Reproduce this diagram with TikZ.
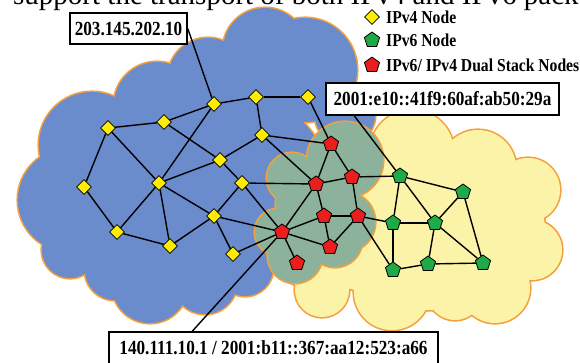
\documentclass[tikz,border=0pt]{standalone}
\usepackage{fontspec}
\setmainfont{Liberation Serif}
\newfontfamily\addrfont{Liberation Serif}[FakeStretch=0.86]
\usepackage{tikz}
\usetikzlibrary{shapes.geometric}
\definecolor{cloudblue}{RGB}{106,140,204}
\definecolor{cloudyellow}{RGB}{250,243,168}
\definecolor{cloudgreen}{RGB}{140,178,156}
\definecolor{cloudedge}{RGB}{245,160,60}
\definecolor{nodeyellow}{RGB}{255,236,0}
\definecolor{nodegreen}{RGB}{30,170,70}
\definecolor{nodered}{RGB}{235,30,30}
\tikzstyle{vfour} = [draw=black, line width=0.8pt, diamond, fill=nodeyellow, minimum size=15pt, inner sep=0pt]
\tikzstyle{vsix} = [draw=black, line width=0.8pt, regular polygon, regular polygon sides=5, fill=nodegreen, minimum size=16pt, inner sep=0pt]
\tikzstyle{vdual} = [vsix, fill=nodered]
\tikzstyle{addrbox} = [draw=black, line width=1.5pt, rectangle, fill=white, inner sep=0pt, minimum height=32pt, font=\addrfont\bfseries\fontsize{20}{20}\selectfont]
\tikzstyle{legendtext} = [anchor=base west, inner sep=0pt, font=\addrfont\bfseries\fontsize{18.2}{18.2}\selectfont]
\tikzstyle{link} = [draw=black, line width=1.4pt]

\begin{document}
\begin{tikzpicture}[x=1pt, y=-1pt]
    \useasboundingbox (0,0) rectangle (580,362);

    % yellow cloud (IPv6)
    \foreach \cx/\cy/\r in {412/152/42, 478/168/38, 528/190/32, 532/250/30, 495/288/35, 455/292/28, 392/292/38, 322/290/27, 305/262/25, 310/250/28, 360/250/40, 470/230/60}
        \fill[cloudedge] (\cx,\cy) circle [radius=\r+1.6];
    \fill[cloudedge] (430,230) ellipse [x radius=116.6, y radius=81.6];
    \foreach \cx/\cy/\r in {412/152/42, 478/168/38, 528/190/32, 532/250/30, 495/288/35, 455/292/28, 392/292/38, 322/290/27, 305/262/25, 310/250/28, 360/250/40, 470/230/60}
        \fill[cloudyellow] (\cx,\cy) circle [radius=\r];
    \fill[cloudyellow] (430,230) ellipse [x radius=115, y radius=80];

    % blue cloud (IPv4)
    \foreach \cx/\cy/\r in {92/145/53, 70/200/52, 70/250/28, 115/270/30, 150/285/38, 205/282/32, 245/268/28, 157/105/43, 208/78/40, 265/50/42, 305/70/52, 345/115/30}
        \fill[cloudedge] (\cx,\cy) circle [radius=\r+1.6];
    \fill[cloudedge] (195,185) ellipse [x radius=136.6, y radius=106.6];
    \foreach \cx/\cy/\r in {92/145/53, 70/200/52, 70/250/28, 115/270/30, 150/285/38, 205/282/32, 245/268/28, 157/105/43, 208/78/40, 265/50/42, 305/70/52, 345/115/30}
        \fill[cloudblue] (\cx,\cy) circle [radius=\r];
    \fill[cloudblue] (195,185) ellipse [x radius=135, y radius=105];

    % green cloud (dual stack)
    \foreach \cx/\cy/\r in {292/178/25, 345/160/38, 345/222/30, 335/240/27, 295/256/27, 278/232/23, 318/205/42}
        \fill[cloudedge] (\cx,\cy) circle [radius=\r+1.6];
    \foreach \cx/\cy/\r in {292/178/25, 345/160/38, 345/222/30, 335/240/27, 295/256/27, 278/232/23, 318/205/42}
        \fill[cloudgreen] (\cx,\cy) circle [radius=\r];

    % IPv4 nodes
    \node[vfour] (yel1) at (214,104) {};
    \node[vfour] (yel2) at (256,97) {};
    \node[vfour] (yel3) at (164,122) {};
    \node[vfour] (yel4) at (108,128) {};
    \node[vfour] (yel5) at (262,135) {};
    \node[vfour] (yel6) at (220,160) {};
    \node[vfour] (yel7) at (84,187) {};
    \node[vfour] (yel8) at (159,183) {};
    \node[vfour] (yel9) at (242,183) {};
    \node[vfour] (yel10) at (117,232) {};
    \node[vfour] (yel11) at (214,216) {};
    \node[vfour] (yel12) at (170,246) {};
    \node[vfour] (yel13) at (233,254) {};
    \node[vfour] (yel14) at (308,97) {};

    % dual stack nodes
    \node[vdual] (red1) at (331,144) {};
    \node[vdual] (red2) at (352,177) {};
    \node[vdual] (red3) at (316,184) {};
    \node[vdual] (red4) at (324,216) {};
    \node[vdual] (red5) at (358,216) {};
    \node[vdual] (red6) at (282,232) {};
    \node[vdual] (red7) at (330,247) {};
    \node[vdual] (red8) at (297,263) {};

    % IPv6 nodes
    \node[vsix] (grn1) at (400,176) {};
    \node[vsix] (grn2) at (463,192) {};
    \node[vsix] (grn3) at (393,223) {};
    \node[vsix] (grn4) at (435,223) {};
    \node[vsix] (grn5) at (393,270) {};
    \node[vsix] (grn6) at (428,264) {};
    \node[vsix] (grn7) at (483,263) {};

    % links
    \foreach \a/\b in {yel1/yel2, yel1/yel3, yel3/yel4, yel4/yel7, yel4/yel8, yel1/yel8,
        yel3/yel6, yel6/yel9, yel2/yel5, yel5/yel6, yel2/yel14, yel6/yel8, yel8/yel11,
        yel8/yel10, yel8/yel12, yel7/yel10, yel10/yel12, yel12/yel11, yel11/yel9,
        yel11/yel13, yel11/red6, yel9/red3, yel9/red6, yel13/red6, yel5/red1, yel5/red3,
        yel14/red1, red1/red3, red1/red2, red3/red2, red2/red5, red3/red4, red4/red5,
        red3/red6, red4/red6, red6/red7, red4/red7, red5/red7, red6/red8, red2/grn1,
        red5/grn3, red5/grn5, grn1/grn2, grn1/grn3, grn1/grn4, grn3/grn4, grn2/grn4,
        grn2/grn7, grn3/grn5, grn4/grn6, grn4/grn7, grn5/grn6, grn6/grn7}
        \draw[link] (\a) -- (\b);

    % address labels
    \node[addrbox, minimum width=117pt, minimum height=31pt] (ip203) at (128.5,28.5) {203.145.202.10};
    \node[addrbox, minimum width=233pt] (ip2001) at (442.5,99) {2001:e10::41f9:60af:ab50:29a};
    \node[addrbox, minimum width=329pt] (ipdual) at (273.5,348) {140.111.10.1 / 2001:b11::367:aa12:523:a66};
    \coordinate (tip2001) at ([xshift=29pt]ip2001.south west);
    \coordinate (tipdual) at ([xshift=84pt]ipdual.north west);
    \draw[link] (ip203.east) -- (yel1);
    \draw[link] (tip2001) -- (grn1);
    \draw[link] (tipdual) -- (red6);

    % legend
    \node[vfour] (keyfour) at (372,17) {};
    \node[vsix] (keysix) at (372,40) {};
    \node[vdual] (keydual) at (372,65) {};
    \node[legendtext] (txtfour) at (386,23) {IPv4 Node};
    \node[legendtext] (txtsix) at (386,46) {IPv6 Node};
    \node[legendtext] (txtdual) at (386,71) {IPv6/ IPv4 Dual Stack Nodes};

    % caption line cut off above
    \node[anchor=base west, inner sep=0pt, font=\fontsize{29}{29}\selectfont] (caption) at (13,4) {support the transport of both IPv4 and IPv6 packets};
\end{tikzpicture}
\end{document}
